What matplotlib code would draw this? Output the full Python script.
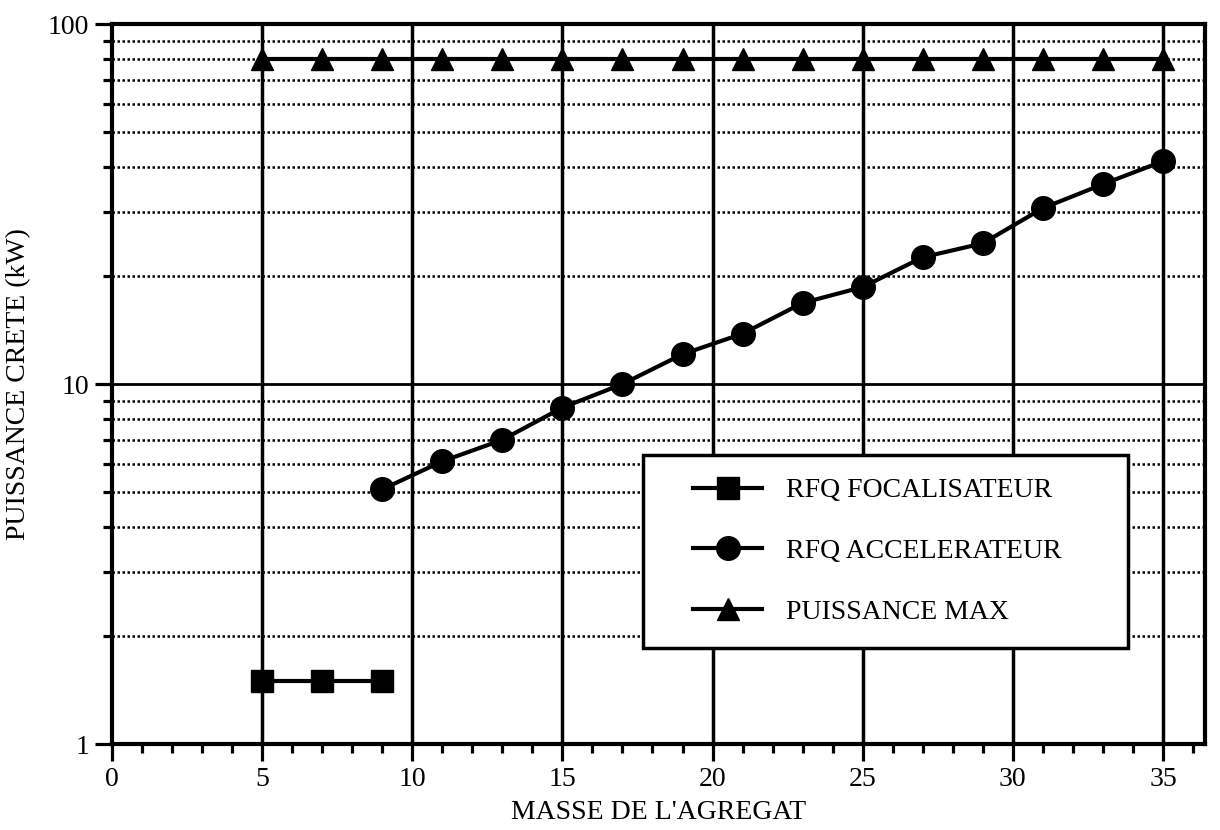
import numpy as np
import matplotlib.pyplot as plt
from matplotlib.patches import Rectangle
from matplotlib.ticker import FixedLocator, NullFormatter, MultipleLocator

# Données
masse_focal = [5, 7, 9]
puissance_focal = [1.5, 1.5, 1.5]

masse_accel = [9, 11, 13, 15, 17, 19, 21, 23, 25, 27, 29, 31, 33, 35]
puissance_accel = [5.1, 6.1, 7.0, 8.6, 10.0, 12.1, 13.8, 16.8, 18.6, 22.5, 24.6, 30.8, 35.9, 41.6]

masse_max = [5, 7, 9, 11, 13, 15, 17, 19, 21, 23, 25, 27, 29, 31, 33, 35]
puissance_max = [80] * len(masse_max)

graduations_min = [2, 3, 4, 5, 6, 7, 8, 9, 20, 30, 40, 50, 60, 70, 80, 90]

plt.rcParams['font.family'] = ['Liberation Serif', 'DejaVu Serif']

fig = plt.figure(figsize=(12.2, 8.3), dpi=100)
ax = fig.add_axes([0.0918, 0.1036, 0.8959, 0.8674])

# Grille
for x in range(5, 36, 5):
    ax.axvline(x, color='black', lw=2.5, zorder=1)
for y in graduations_min:
    ax.axhline(y, color='black', lw=1.8, ls=(0, (1, 1)), zorder=1)
ax.axhline(10, color='black', lw=2.0, zorder=1)

ax.plot(masse_focal, puissance_focal, color='black', lw=3, marker='s', ms=16,
        label='RFQ FOCALISATEUR', zorder=3)
ax.plot(masse_accel, puissance_accel, color='black', lw=3, marker='o', ms=17,
        label='RFQ ACCELERATEUR', zorder=3)
ax.plot(masse_max, puissance_max, color='black', lw=3, marker='^', ms=16,
        label='PUISSANCE MAX', zorder=3)

ax.set_yscale('log')
ax.set_ylim(1, 100)
ax.set_xlim(0, 36.4)

ax.xaxis.set_major_locator(MultipleLocator(5))
ax.xaxis.set_minor_locator(MultipleLocator(1))
ax.yaxis.set_major_locator(FixedLocator([1, 10, 100]))
ax.yaxis.set_major_formatter(plt.FuncFormatter(lambda v, p: f'{v:g}'))
ax.yaxis.set_minor_locator(FixedLocator(graduations_min))
ax.yaxis.set_minor_formatter(NullFormatter())

ax.tick_params(which='major', direction='out', length=12.5, width=2.3, labelsize=20, pad=4)
ax.tick_params(which='minor', direction='out', length=6.5, width=2.3)

for sp in ['top', 'bottom', 'left', 'right']:
    ax.spines[sp].set_linewidth(3)

ax.set_xlabel("MASSE DE L'AGREGAT", fontsize=20, labelpad=6)
ax.set_ylabel('PUISSANCE CRETE (kW)', fontsize=20)
ax.yaxis.set_label_coords(-0.074, 0.5)

# Cadre de la légende
ax.add_patch(Rectangle((0.4858, 0.1333), 0.4437, 0.2681, transform=ax.transAxes,
                       facecolor='white', edgecolor='black', lw=2.5, zorder=4))
leg = ax.legend(loc='center left', bbox_to_anchor=(0.5316, 0.2674), fontsize=20,
                frameon=False, handlelength=2.5, borderpad=0, labelspacing=1.27,
                handletextpad=0.86, borderaxespad=0)
leg.set_zorder(5)

fig.savefig('out.png', dpi=100)
